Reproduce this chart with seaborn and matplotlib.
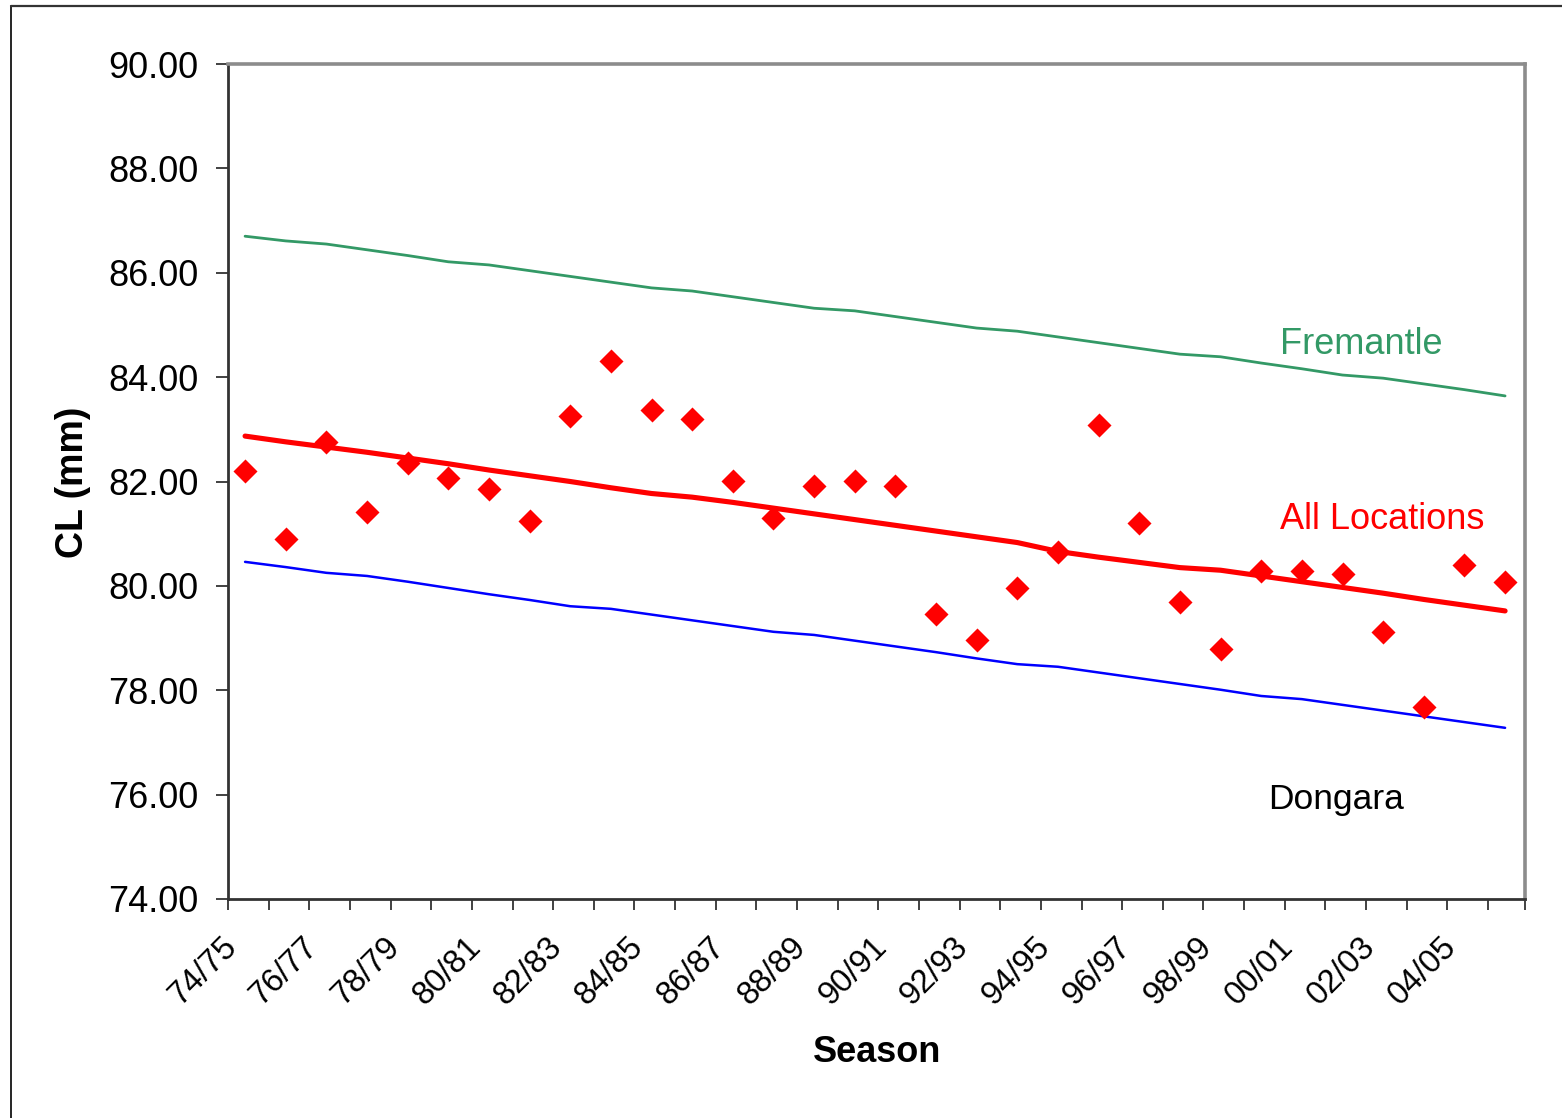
import numpy as np
import pandas as pd
import matplotlib
matplotlib.use("Agg")
import matplotlib.pyplot as plt
import matplotlib.transforms as mtransforms
from matplotlib.lines import Line2D
import seaborn as sns

seasons = ["74/75", "75/76", "76/77", "77/78", "78/79", "79/80", "80/81", "81/82",
           "82/83", "83/84", "84/85", "85/86", "86/87", "87/88", "88/89", "89/90",
           "90/91", "91/92", "92/93", "93/94", "94/95", "95/96", "96/97", "97/98",
           "98/99", "99/00", "00/01", "01/02", "02/03", "03/04", "04/05", "05/06"]

cl_all = [82.20, 80.90, 82.76, 81.42, 82.35, 82.07, 81.86, 81.24,
          83.26, 84.31, 83.37, 83.20, 82.01, 81.30, 81.91, 82.01,
          81.91, 79.46, 78.96, 79.96, 80.65, 83.08, 81.21, 79.69,
          78.79, 80.29, 80.29, 80.23, 79.12, 77.68, 80.40, 80.07]

trend_all = [82.87, 82.76, 82.66, 82.56, 82.45, 82.34, 82.22, 82.11,
             82.00, 81.88, 81.77, 81.70, 81.60, 81.49, 81.38, 81.27,
             81.16, 81.05, 80.94, 80.83, 80.66, 80.55, 80.45, 80.35,
             80.30, 80.19, 80.08, 79.97, 79.86, 79.74, 79.63, 79.52]

trend_fremantle = [86.70, 86.61, 86.55, 86.44, 86.33, 86.21, 86.15, 86.04,
                   85.93, 85.82, 85.71, 85.65, 85.54, 85.43, 85.32, 85.27,
                   85.16, 85.05, 84.94, 84.88, 84.77, 84.66, 84.55, 84.44,
                   84.39, 84.27, 84.16, 84.04, 83.98, 83.87, 83.76, 83.64]

trend_dongara = [80.46, 80.36, 80.25, 80.19, 80.08, 79.96, 79.84, 79.73,
                 79.61, 79.56, 79.45, 79.34, 79.23, 79.12, 79.06, 78.95,
                 78.84, 78.73, 78.61, 78.50, 78.45, 78.34, 78.23, 78.12,
                 78.01, 77.89, 77.83, 77.72, 77.61, 77.50, 77.39, 77.28]

y_ticks = [74, 76, 78, 80, 82, 84, 86, 88, 90]

sns.set_theme(style="white")
plt.rcParams['font.family'] = ['Liberation Sans', 'DejaVu Sans']
plt.rcParams['text.color'] = 'black'
plt.rcParams['xtick.color'] = 'black'
plt.rcParams['ytick.color'] = 'black'
plt.rcParams['axes.labelcolor'] = 'black'

df = pd.DataFrame({
    "Season": seasons,
    "CL": cl_all,
    "All": trend_all,
    "Fremantle": trend_fremantle,
    "Dongara": trend_dongara,
})

fig = plt.figure(figsize=(15.62, 11.18), dpi=100)
ax = fig.add_axes([228 / 1562, 1 - 899 / 1118, (1525 - 228) / 1562, (899 - 64) / 1118])

sns.lineplot(data=df, x="Season", y="Fremantle", ax=ax, color="#339966", linewidth=2.0, sort=False)
sns.lineplot(data=df, x="Season", y="Dongara", ax=ax, color="#0000FF", linewidth=1.8, sort=False)
sns.lineplot(data=df, x="Season", y="All", ax=ax, color="#FF0000", linewidth=3.7, sort=False)
sns.scatterplot(data=df, x="Season", y="CL", ax=ax, marker="D", color="#FF0000",
                s=150, linewidth=0, zorder=5)

n = len(seasons)
x_lo = -0.42
x_hi = n - 0.51
ax.set_xlim(x_lo, x_hi)
ax.set_ylim(74, 90)

# boundary ticks (major) without labels, labels on minor ticks at every 2nd season
boundaries = list(np.arange(x_lo, n - 0.5, 1.0)) + [x_hi]
ax.set_xticks(boundaries)
ax.set_xticklabels([])
label_pos = np.arange(0, n, 2)
ax.set_xticks(label_pos, minor=True)
ax.set_xticklabels([seasons[i] for i in label_pos], minor=True, rotation=45,
                   ha="right", va="center", rotation_mode="anchor", fontsize=23.5)
ax.tick_params(axis="x", which="major", direction="out", length=8, width=1.3,
               color="#333333", bottom=True)
ax.tick_params(axis="x", which="minor", length=0, pad=31, bottom=True)
offset = mtransforms.ScaledTranslation(-13 / 100, 0, fig.dpi_scale_trans)
for lab in ax.get_xticklabels(minor=True):
    lab.set_transform(lab.get_transform() + offset)

ax.set_yticks(y_ticks)
ax.set_yticklabels([f"{v:.2f}" for v in y_ticks], fontsize=26)
ax.tick_params(axis="y", direction="out", length=9, width=1.3, color="#333333",
               left=True, pad=12)

for side in ["left", "bottom"]:
    ax.spines[side].set_color("#333333")
    ax.spines[side].set_linewidth(2.0)
for side in ["top", "right"]:
    ax.spines[side].set_color("#8c8c8c")
    ax.spines[side].set_linewidth(2.6)
    ax.spines[side].set_visible(True)

ax.set_xlabel("")
ax.set_ylabel("")
fig.text(73 / 1562, 1 - 482 / 1118, "CL (mm)", rotation=90, ha="center", va="center",
         fontsize=27, fontweight="bold")
fig.text(877 / 1562, 1 - 1052 / 1118, "Season", ha="center", va="center",
         fontsize=26, fontweight="bold")

ax.text(1280 / 1562, 1 - 345 / 1118, "Fremantle", transform=fig.transFigure,
        color="#339966", fontsize=26, ha="left", va="center")
ax.text(1280 / 1562, 1 - 520 / 1118, "All Locations", transform=fig.transFigure,
        color="#FF0000", fontsize=26, ha="left", va="center")
ax.text(1268 / 1562, 1 - 800 / 1118, "Dongara", transform=fig.transFigure,
        color="black", fontsize=25.5, ha="left", va="center")

# outer chart border (left and top visible)
fig.add_artist(Line2D([10.5 / 1562, 10.5 / 1562], [0, 1 - 5.5 / 1118],
                      transform=fig.transFigure, color="black", linewidth=1.2))
fig.add_artist(Line2D([10.5 / 1562, 1], [1 - 5.5 / 1118, 1 - 5.5 / 1118],
                      transform=fig.transFigure, color="#333333", linewidth=1.6))

fig.savefig("out.png", dpi=100, facecolor="white")
